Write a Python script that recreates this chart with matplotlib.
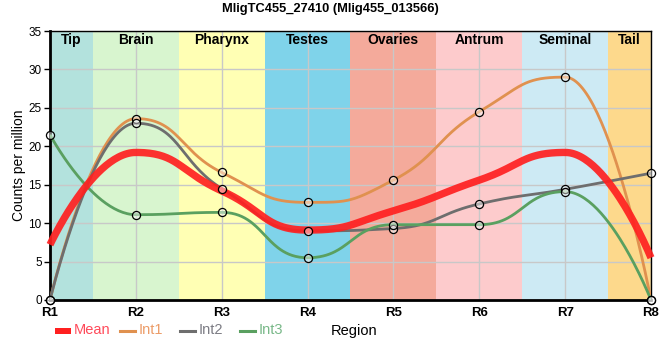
import numpy as np
import matplotlib
matplotlib.use("Agg")
import matplotlib.pyplot as plt
from matplotlib.lines import Line2D
from matplotlib.patches import Rectangle

plt.rcParams['font.family'] = ['Liberation Sans', 'DejaVu Sans']

regions = ["R1", "R2", "R3", "R4", "R5", "R6", "R7", "R8"]
bands = ["Tip", "Brain", "Pharynx", "Testes", "Ovaries", "Antrum", "Seminal", "Tail"]
band_colors = ["#b3e2dd", "#d8f5cf", "#ffffb4", "#7fd3ea", "#f4aa9b", "#fdcbcc", "#cdeaf4", "#fdd98c"]

int1 = [0.0, 23.6, 16.6, 12.7, 15.6, 24.5, 29.0, 0.0]
int2 = [0.0, 23.0, 14.5, 9.0, 9.3, 12.5, 14.4, 16.5]
int3 = [21.5, 11.1, 11.4, 5.5, 9.8, 9.8, 14.1, 0.0]
mean = [7.2, 19.2, 14.2, 9.1, 11.6, 15.6, 19.2, 5.5]

series_names = ["Int1", "Int2", "Int3"]
series_colors = ["#e0914f", "#6e6e6e", "#5aa060"]
label_colors = ["#ec9c68", "#7c7c84", "#78b888"]
mean_color = "#ff2020"
mean_label_color = "#ff4a5a"


def spline(x, y, n=60, smoothing=1.0):
    """Bezier spline through points with clamped control points."""
    x = np.asarray(x, float); y = np.asarray(y, float)
    m = len(x)
    lcx = x.copy(); lcy = y.copy(); rcx = x.copy(); rcy = y.copy()
    d = smoothing + 1
    for i in range(1, m - 1):
        lx = (smoothing * x[i] + x[i - 1]) / d
        ly = (smoothing * y[i] + y[i - 1]) / d
        rx = (smoothing * x[i] + x[i + 1]) / d
        ry = (smoothing * y[i] + y[i + 1]) / d
        corr = (ry - ly) * (rx - x[i]) / (rx - lx) + y[i] - ry
        ly += corr; ry += corr
        if ly > y[i - 1] and ly > y[i]:
            ly = max(y[i - 1], y[i]); ry = 2 * y[i] - ly
        elif ly < y[i - 1] and ly < y[i]:
            ly = min(y[i - 1], y[i]); ry = 2 * y[i] - ly
        if ry > y[i + 1] and ry > y[i]:
            ry = max(y[i + 1], y[i]); ly = 2 * y[i] - ry
        elif ry < y[i + 1] and ry < y[i]:
            ry = min(y[i + 1], y[i]); ly = 2 * y[i] - ry
        lcx[i], lcy[i], rcx[i], rcy[i] = lx, ly, rx, ry
    xs, ys = [], []
    u = np.linspace(0, 1, n)[:, None]
    for i in range(m - 1):
        P = np.array([[x[i], y[i]], [rcx[i], rcy[i]], [lcx[i + 1], lcy[i + 1]], [x[i + 1], y[i + 1]]])
        B = (1 - u) ** 3 * P[0] + 3 * (1 - u) ** 2 * u * P[1] + 3 * (1 - u) * u ** 2 * P[2] + u ** 3 * P[3]
        xs.append(B[:, 0]); ys.append(B[:, 1])
    return np.concatenate(xs), np.concatenate(ys)


W, H = 660, 360
fig = plt.figure(figsize=(W / 100, H / 100), dpi=100)
ax = fig.add_axes([50 / W, 60 / H, 601 / W, 269 / H])

xpos = np.arange(len(regions))
for i, (b, c) in enumerate(zip(bands, band_colors)):
    lo = max(i - 0.5, 0); hi = min(i + 0.5, len(regions) - 1)
    ax.axvspan(lo, hi, color=c, lw=0, zorder=0)
    ax.text((lo + hi) / 2, 34.7, b, ha='center', va='top', fontsize=10, fontweight='bold', zorder=5)

ax.set_xlim(0, len(regions) - 1)
ax.set_ylim(0, 35)
ax.set_yticks(np.arange(0, 36, 5))
ax.set_xticks(xpos)
ax.set_xticklabels(regions, fontweight='bold', fontsize=9.5)
ax.tick_params(axis='y', labelsize=8.5, length=4, width=1, pad=2)
ax.tick_params(axis='x', length=0, pad=5)
ax.grid(True, color="#c8c8c8", lw=1, zorder=1)
for g in ax.get_xgridlines() + ax.get_ygridlines():
    g.set_zorder(1)

for vals, col in zip([int1, int2, int3], series_colors):
    xs, ys = spline(xpos, vals)
    ax.plot(xs, ys, color=col, lw=2.0, zorder=3, solid_capstyle='butt')
xs, ys = spline(xpos, mean)
ax.plot(xs, ys, color=mean_color, lw=5.3, alpha=0.92, zorder=4, solid_capstyle='butt', clip_on=False)
for vals in [int1, int2, int3]:
    ax.scatter(xpos, vals, s=34, facecolor=(1, 1, 1, 0.45), edgecolor='black', lw=0.9, zorder=6, clip_on=False)

for side in ['left', 'bottom']:
    ax.spines[side].set_linewidth(2)
for side in ['top', 'right']:
    ax.spines[side].set_linewidth(1)

ax.set_ylabel("Counts per million", fontsize=10)
ax.yaxis.set_label_coords((26 - 50) / 601, 0.5)
fig.text(0.5, 1 - 9 / H, "MligTC455_27410 (Mlig455_013566)", ha='center', va='center', fontsize=9.3, fontweight='bold')

# legend (manual placement)
ly = 1 - 330.5 / H
fig.add_artist(Rectangle((55 / W, 1 - 333.5 / H), 16 / W, 6 / H, transform=fig.transFigure,
                         color=mean_color, lw=0))
fig.text(74 / W, ly, "Mean", ha='left', va='center', fontsize=10.5, color=mean_label_color)
for x0, name, col, lcol in zip([120, 180, 240], series_names, series_colors, label_colors):
    fig.add_artist(Line2D([x0 / W, (x0 + 15) / W], [ly, ly], transform=fig.transFigure, color=col, lw=2.2))
    fig.text((x0 + 19) / W, ly, name, ha='left', va='center', fontsize=10.5, color=lcol)
fig.text(331 / W, ly, "Region", ha='left', va='center', fontsize=10.5)

fig.savefig("out.png", dpi=100)
